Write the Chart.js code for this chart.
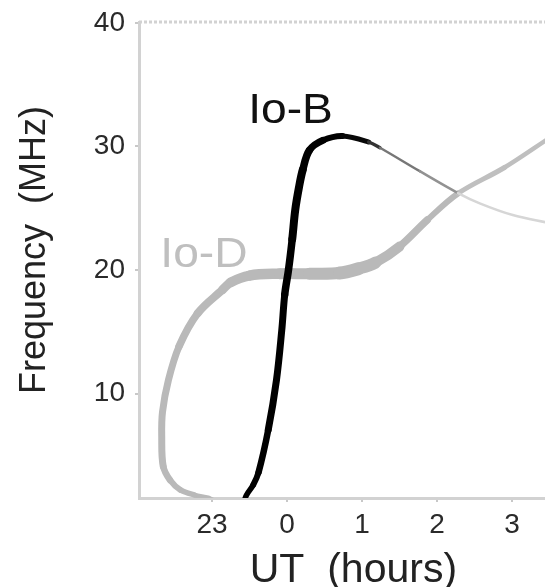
<!DOCTYPE html>
<html>
<head>
<meta charset="utf-8">
<script src="https://cdn.jsdelivr.net/npm/chart.js@4.4.1/dist/chart.umd.min.js"></script>
<style>
html,body{margin:0;padding:0;background:#fff;overflow:hidden}
#wrap{width:545px;height:587px}
</style>
</head>
<body>
<div id="wrap"><canvas id="c" width="545" height="587"></canvas></div>
<script>
// ---- data (UT hours: 23h shown as -1) ----
const ioB_ut   = [-0.57, -0.54, -0.45, -0.38, -0.25, -0.14, -0.07, -0.03, 0.02, 0.07, 0.11, 0.16, 0.21, 0.30, 0.48, 0.74, 1.09, 1.24, 1.77, 2.28, 2.57, 3.01, 3.50];
const ioB_freq = [ 1.3,  1.78,  2.6,   3.6,   7.05, 11.1,  15.1,  18.0,  20.0, 22.5, 24.86, 26.7, 28.1, 29.7, 30.5, 30.85, 30.36, 29.9, 28.0, 26.23, 25.4, 24.45, 23.8];

const ioD_ut   = [-1.00, -1.05, -1.23, -1.42, -1.56, -1.65, -1.67, -1.66, -1.58, -1.44, -1.19, -0.86, -0.75, -0.50, -0.10, 0.30, 0.70, 0.95, 1.18, 1.50, 1.87, 2.28, 2.90, 3.50];
const ioD_freq = [ 1.4,   1.54,  1.78,  2.19,  3.0,   4.1,   6.5,   8.5,  11.1,  13.8,  16.5,  18.4,  19.0,  19.55, 19.7, 19.7, 19.75, 20.1, 20.6, 21.9, 24.05, 26.2, 28.3, 30.7];

const seriesNames = ['Io-B', 'Io-D'];
const xTicks = [-1, 0, 1, 2, 3];
const xTickLabels = ['23', '0', '1', '2', '3'];
const yTicks = [10, 20, 30, 40];
const xTitle = '  UT  (hours)';
const yTitle = '  Frequency  (MHz)';

// ---- styles (per line segment) ----
const ioB_segWidth = [5.5, 5.5, 6, 6.5, 7, 7, 7, 7.5, 7.5, 8, 8, 8, 7.5, 7, 6, 5, 3.5, 2.5, 2.5, 2.5, 2.5, 2.5];
const ioB_segColor = ['#000', '#000', '#000', '#000', '#000', '#000', '#000', '#000', '#000', '#000', '#000',
                      '#000', '#000', '#000', '#000', '#080808', '#333', '#777', '#929292', '#d6d6d6', '#d6d6d6', '#d6d6d6'];
const ioD_segWidth = [5, 5, 5.5, 6, 6.5, 7, 7, 7, 7, 7.5, 8, 9, 10, 10.5, 11, 12, 13, 12, 10, 7.5, 6, 5, 4.5];
const ioD_color = '#b9b9b9';
const ioD_tailColor = '#bfbfbf';

// where the series names are written (data units: UT, MHz at text baseline)
const nameAnchorB = [0.047, 31.9];
const nameAnchorD = [-1.107, 20.24];

const toXY = (xs, ys) => xs.map((x, i) => ({x: x, y: ys[i]}));

Chart.defaults.font.family = "'Liberation Sans', Arial, Helvetica, sans-serif";

const framePlugin = {
  id: 'framePlugin',
  beforeDatasetsDraw(chart) {
    const {ctx, chartArea} = chart;
    ctx.save();
    ctx.strokeStyle = '#d2d2d2';
    ctx.lineWidth = 3;
    ctx.setLineDash([3, 2]);
    ctx.beginPath();
    ctx.moveTo(chartArea.left, chartArea.top);
    ctx.lineTo(chartArea.right, chartArea.top);
    ctx.stroke();
    ctx.restore();
  },
  afterDatasetsDraw(chart) {
    const {ctx} = chart;
    const xs = chart.scales.x, ys = chart.scales.y;
    const put = (txt, anchor, color) => {
      ctx.save();
      ctx.translate(xs.getPixelForValue(anchor[0]), ys.getPixelForValue(anchor[1]));
      ctx.scale(1.1, 1);
      ctx.font = "42px 'Liberation Sans', Arial, sans-serif";
      ctx.fillStyle = color;
      ctx.textAlign = 'center';
      ctx.textBaseline = 'alphabetic';
      ctx.fillText(txt, 0, 0);
      ctx.restore();
    };
    put(seriesNames[0], nameAnchorB, '#111111');
    put(seriesNames[1], nameAnchorD, '#bfbfbf');
  }
};

const zeroPad = s => { s.paddingTop = 0; s.paddingBottom = 0; s.paddingLeft = 0; s.paddingRight = 0; };

new Chart(document.getElementById('c'), {
  type: 'scatter',
  data: {
    datasets: [
      {
        label: seriesNames[0],
        data: toXY(ioB_ut, ioB_freq),
        showLine: true,
        pointRadius: 0,
        tension: 0.35,
        borderColor: '#000',
        borderWidth: 6,
        borderCapStyle: 'round',
        borderJoinStyle: 'round',
        clip: 0,
        segment: {
          borderWidth: ctx => ioB_segWidth[ctx.p0DataIndex],
          borderColor: ctx => ioB_segColor[ctx.p0DataIndex]
        }
      },
      {
        label: seriesNames[1],
        data: toXY(ioD_ut, ioD_freq),
        showLine: true,
        pointRadius: 0,
        tension: 0.35,
        borderColor: ioD_color,
        borderWidth: 8,
        borderCapStyle: 'round',
        borderJoinStyle: 'round',
        clip: 0,
        segment: {
          borderWidth: ctx => ioD_segWidth[ctx.p0DataIndex],
          borderColor: ctx => (ctx.p0DataIndex >= 21 ? ioD_tailColor : ioD_color)
        }
      }
    ]
  },
  options: {
    responsive: false,
    animation: false,
    devicePixelRatio: 1,
    layout: {padding: {top: 22, right: 0, bottom: 0, left: 0}},
    plugins: {legend: {display: false}, tooltip: {enabled: false}},
    scales: {
      x: {
        type: 'linear',
        min: -1.973,
        max: 3.44,
        afterBuildTicks: s => { s.ticks = xTicks.map(v => ({value: v})); },
        afterFit: s => { s.height = 89; zeroPad(s); },
        ticks: {
          callback: (v, i) => xTickLabels[i],
          font: {size: 28},
          color: '#2a2a2a',
          padding: 6,
          maxRotation: 0,
          autoSkip: false
        },
        grid: {display: true, drawOnChartArea: false, drawTicks: true, tickLength: 4, color: '#c8c8c8', lineWidth: 2},
        border: {display: true, color: '#d2d2d2', width: 3, dash: [3, 2]},
        title: {display: true, text: xTitle, font: {size: 41, lineHeight: 0.8}, color: '#222222', padding: {top: 0, bottom: 0}}
      },
      y: {
        type: 'linear',
        min: 1.54,
        max: 40.08,
        afterBuildTicks: s => { s.ticks = yTicks.map(v => ({value: v})); },
        afterFit: s => { s.width = 139; zeroPad(s); },
        ticks: {
          callback: v => String(v),
          font: {size: 28},
          color: '#2a2a2a',
          padding: 10
        },
        grid: {display: true, drawOnChartArea: false, drawTicks: true, tickLength: 4, color: '#c8c8c8', lineWidth: 2},
        border: {display: true, color: '#d2d2d2', width: 3, dash: [3, 2]},
        title: {display: true, text: yTitle, font: {size: 36, lineHeight: 1}, color: '#222222', padding: {top: 17, bottom: 0}}
      }
    }
  },
  plugins: [framePlugin]
});
</script>
</body>
</html>
